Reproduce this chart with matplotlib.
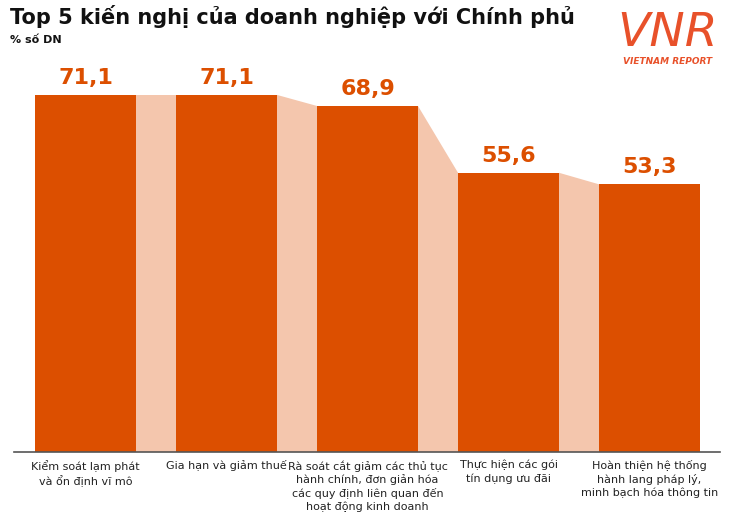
import matplotlib
matplotlib.use("Agg")
import matplotlib.pyplot as plt
from matplotlib.patches import Polygon

categories = [
    "Kiểm soát lạm phát\nvà ổn định vĩ mô",
    "Gia hạn và giảm thuế",
    "Rà soát cắt giảm các thủ tục\nhành chính, đơn giản hóa\ncác quy định liên quan đến\nhoạt động kinh doanh",
    "Thực hiện các gói\ntín dụng ưu đãi",
    "Hoàn thiện hệ thống\nhành lang pháp lý,\nminh bạch hóa thông tin",
]
values = [71.1, 71.1, 68.9, 55.6, 53.3]
value_labels = ["71,1", "71,1", "68,9", "55,6", "53,3"]

ORANGE = "#dc4f00"
LIGHT = "#f4c6ad"
NARROW = ["DejaVu Sans Condensed", "Liberation Sans Narrow", "DejaVu Sans"]

W, H = 730, 516
fig = plt.figure(figsize=(W / 100, H / 100), dpi=100)
base_px = 452
ax = fig.add_axes([0, (H - base_px) / H, 1, base_px / H])
ax.set_xlim(0, W)
ax.set_ylim(0, 90)
ax.axis("off")

bw = 101
xs = [35 + 141 * i for i in range(len(values))]
ax.bar(xs, values, width=bw, align="edge", color=ORANGE, zorder=3)
for i in range(len(values) - 1):
    x0 = xs[i] + bw
    x1 = xs[i + 1]
    ax.add_patch(Polygon([(x0, 0), (x0, values[i]), (x1, values[i + 1]), (x1, 0)],
                         closed=True, facecolor=LIGHT, edgecolor="none", zorder=2))
for x, v, lab in zip(xs, values, value_labels):
    ax.text(x + bw / 2, v + 1.4, lab, ha="center", va="bottom",
            color=ORANGE, fontsize=16, fontweight="bold", family=NARROW)
ax.plot([14, 720], [0, 0], color="#555555", lw=1.2, clip_on=False, zorder=4)

for x, c in zip(xs, categories):
    fig.text((x + bw / 2) / W, 1 - 460 / H, c, ha="center", va="top",
             fontsize=8, color="#222222", linespacing=1.3, family=NARROW)

fig.text(10 / W, 1 - 16 / H, "Top 5 kiến nghị của doanh nghiệp với Chính phủ",
         fontsize=15, fontweight="bold", color="#111111", va="center", family=NARROW)
fig.text(10 / W, 1 - 40 / H, "% số DN", fontsize=8, fontweight="bold",
         color="#111111", va="center")

# logo
fig.text(668 / W, 1 - 33 / H, "VNR", fontsize=34, color="#e8512a", ha="center",
         va="center", style="italic", family="DejaVu Sans")
fig.text(668 / W, 1 - 62 / H, "VIETNAM REPORT", fontsize=6.5, color="#e8512a",
         ha="center", va="center", style="italic", fontweight="bold")

fig.savefig("out.png", dpi=100, facecolor="white")
